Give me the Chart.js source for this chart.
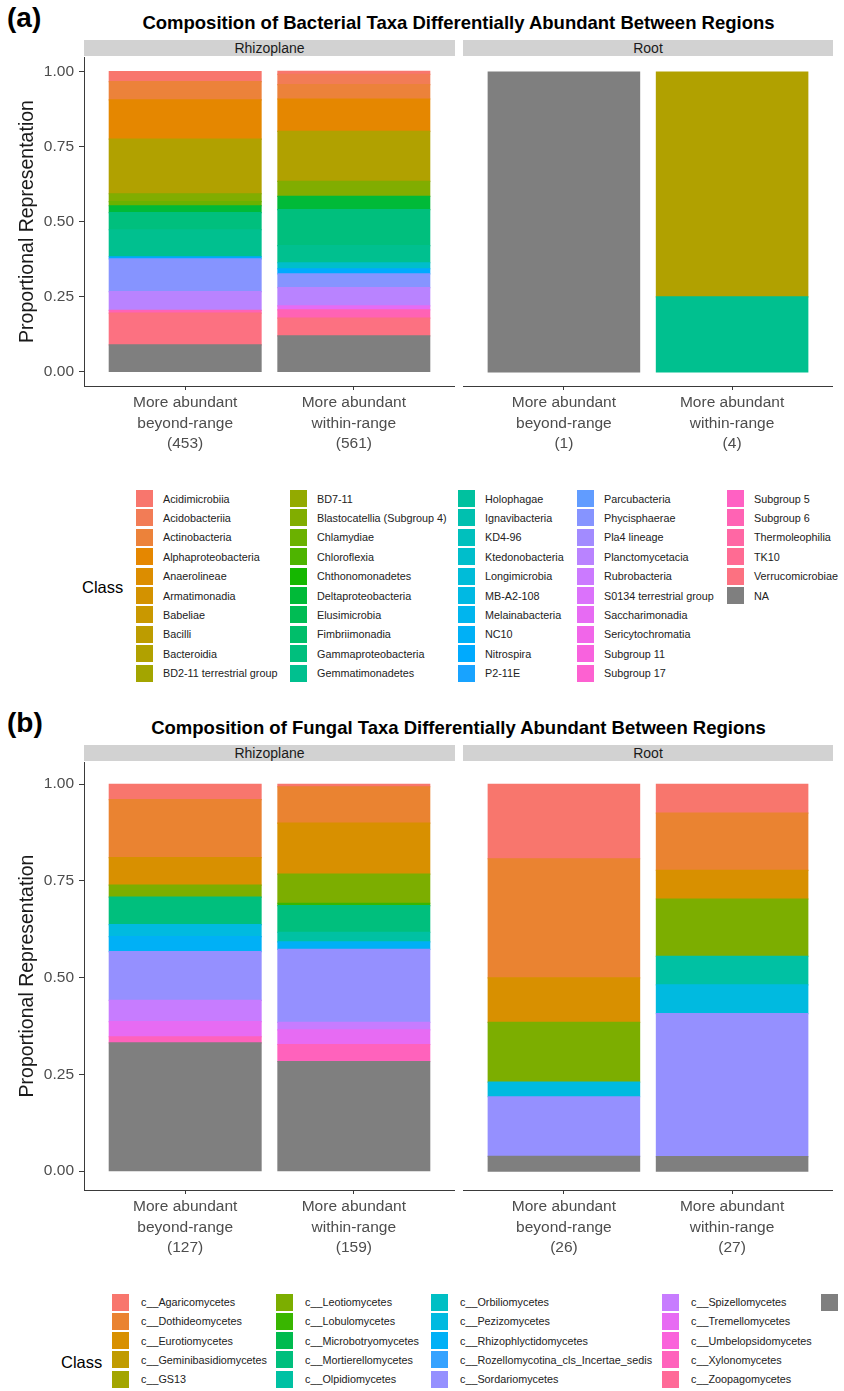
<!DOCTYPE html>
<html>
<head>
<meta charset="utf-8">
<script src="https://cdn.jsdelivr.net/npm/chart.js@4.4.1/dist/chart.umd.min.js"></script>
<style>
  body { margin: 0; background: #fff; }
  #page { position: relative; width: 844px; height: 1391px; overflow: hidden; background: #fff;
          font-family: "Liberation Sans", Arial, sans-serif; }
  #page > * { position: absolute; }
  .tag { font-size: 28px; font-weight: bold; color: #000; line-height: 32px; }
  .title { left: 80px; width: 757px; text-align: center; font-size: 18.5px; font-weight: bold; color: #000; line-height: 22px; }
  .strip { height: 16px; background: #d2d2d2; color: #1a1a1a; font-size: 14px; line-height: 16px; text-align: center; }
  .legtitle { font-size: 16.5px; color: #000; line-height: 20px; }
  .key { position: absolute; width: 17px; height: 17px; }
  .keytext { position: absolute; font-size: 10.8px; color: #222; white-space: nowrap; line-height: 14px; }
</style>
</head>
<body>
<div id="page">
  <div class="tag" style="left:7px;top:2px">(a)</div>
  <div class="title" style="top:12px">Composition of Bacterial Taxa Differentially Abundant Between Regions</div>
  <div class="strip" style="left:84px;top:40px;width:371px">Rhizoplane</div>
  <div class="strip" style="left:463px;top:40px;width:370px">Root</div>
  <canvas id="bacRhizo" width="455" height="425" style="left:0;top:42px"></canvas>
  <canvas id="bacRoot" width="370" height="425" style="left:463px;top:42px"></canvas>
  <div class="legtitle" style="left:82px;top:577px">Class</div>
  <div id="bacLegend" style="left:0;top:0"></div>

  <div class="tag" style="left:7px;top:707px">(b)</div>
  <div class="title" style="top:717px">Composition of Fungal Taxa Differentially Abundant Between Regions</div>
  <div class="strip" style="left:84px;top:745px;width:371px">Rhizoplane</div>
  <div class="strip" style="left:463px;top:745px;width:370px">Root</div>
  <canvas id="funRhizo" width="455" height="525" style="left:0;top:747px"></canvas>
  <canvas id="funRoot" width="370" height="525" style="left:463px;top:747px"></canvas>
  <div class="legtitle" style="left:61px;top:1352px">Class</div>
  <div id="funLegend" style="left:0;top:0"></div>
</div>

<script>
// ---------- data ----------
const groups = ['beyond-range', 'within-range'];

const bacClasses = [
  'Acidimicrobiia', 'Acidobacteriia', 'Actinobacteria', 'Alphaproteobacteria', 'Anaerolineae',
  'Armatimonadia', 'Babeliae', 'Bacilli', 'Bacteroidia', 'BD2-11 terrestrial group',
  'BD7-11', 'Blastocatellia (Subgroup 4)', 'Chlamydiae', 'Chloroflexia', 'Chthonomonadetes',
  'Deltaproteobacteria', 'Elusimicrobia', 'Fimbriimonadia', 'Gammaproteobacteria', 'Gemmatimonadetes',
  'Holophagae', 'Ignavibacteria', 'KD4-96', 'Ktedonobacteria', 'Longimicrobia',
  'MB-A2-108', 'Melainabacteria', 'NC10', 'Nitrospira', 'P2-11E',
  'Parcubacteria', 'Phycisphaerae', 'Pla4 lineage', 'Planctomycetacia', 'Rubrobacteria',
  'S0134 terrestrial group', 'Saccharimonadia', 'Sericytochromatia', 'Subgroup 11', 'Subgroup 17',
  'Subgroup 5', 'Subgroup 6', 'Thermoleophilia', 'TK10', 'Verrucomicrobiae', 'NA'
];
// proportions, same order as bacClasses
const bacRhizoBeyond = [
  0.033, 0, 0.061, 0.131, 0, 0, 0, 0, 0.182, 0,
  0, 0.026, 0.014, 0, 0, 0.023, 0, 0, 0.057, 0.090,
  0, 0, 0, 0, 0, 0, 0, 0, 0.007, 0,
  0, 0.109, 0, 0.063, 0, 0, 0, 0, 0, 0,
  0, 0.009, 0, 0, 0.106, 0.090
];
const bacRhizoWithin = [
  0.010, 0.034, 0.048, 0.108, 0, 0, 0, 0, 0.167, 0,
  0, 0.050, 0, 0, 0, 0.044, 0, 0, 0.120, 0.057,
  0, 0, 0, 0.020, 0, 0, 0, 0, 0.017, 0,
  0, 0.046, 0, 0.061, 0, 0, 0.013, 0, 0, 0,
  0, 0.028, 0, 0, 0.059, 0.120
];
const bacRootBeyond = [
  0, 0, 0, 0, 0, 0, 0, 0, 0, 0,
  0, 0, 0, 0, 0, 0, 0, 0, 0, 0,
  0, 0, 0, 0, 0, 0, 0, 0, 0, 0,
  0, 0, 0, 0, 0, 0, 0, 0, 0, 0,
  0, 0, 0, 0, 0, 1
];
const bacRootWithin = [
  0, 0, 0, 0, 0, 0, 0, 0, 0.75, 0,
  0, 0, 0, 0, 0, 0, 0, 0, 0, 0.25,
  0, 0, 0, 0, 0, 0, 0, 0, 0, 0,
  0, 0, 0, 0, 0, 0, 0, 0, 0, 0,
  0, 0, 0, 0, 0, 0
];
const bacRhizoCounts = [453, 561];
const bacRootCounts = [1, 4];

const funClasses = [
  'c__Agaricomycetes', 'c__Dothideomycetes', 'c__Eurotiomycetes', 'c__Geminibasidiomycetes', 'c__GS13',
  'c__Leotiomycetes', 'c__Lobulomycetes', 'c__Microbotryomycetes', 'c__Mortierellomycetes', 'c__Olpidiomycetes',
  'c__Orbiliomycetes', 'c__Pezizomycetes', 'c__Rhizophlyctidomycetes', 'c__Rozellomycotina_cls_Incertae_sedis', 'c__Sordariomycetes',
  'c__Spizellomycetes', 'c__Tremellomycetes', 'c__Umbelopsidomycetes', 'c__Xylonomycetes', 'c__Zoopagomycetes',
  'NA'
];
const funRhizoBeyond = [0.039, 0.150, 0.071, 0, 0, 0.031, 0, 0, 0.071, 0, 0, 0.031, 0.039, 0, 0.126, 0.055, 0.039, 0, 0.016, 0, 0.331];
const funRhizoWithin = [0.006, 0.094, 0.132, 0, 0, 0.075, 0.006, 0, 0.069, 0.025, 0, 0, 0.019, 0, 0.189, 0.019, 0.038, 0, 0.044, 0, 0.283];
const funRootBeyond  = [0.192, 0.308, 0.115, 0, 0, 0.154, 0, 0, 0, 0, 0, 0.038, 0, 0, 0.154, 0, 0, 0, 0, 0, 0.038];
const funRootWithin  = [0.074, 0.148, 0.074, 0, 0, 0.148, 0, 0, 0, 0.074, 0, 0.074, 0, 0, 0.370, 0, 0, 0, 0, 0, 0.037];
const funRhizoCounts = [127, 159];
const funRootCounts = [26, 27];

const yTicks = [0, 0.25, 0.5, 0.75, 1];

// ---------- ggplot-like hue palette ----------
function hcl(h, c, l) {
  const rad = h * Math.PI / 180;
  const U = c * Math.cos(rad), V = c * Math.sin(rad);
  const Xn = 95.047, Yn = 100, Zn = 108.883;
  const Y = Yn * (l > 8 ? Math.pow((l + 16) / 116, 3) : l / 903.3);
  const den = Xn + 15 * Yn + 3 * Zn;
  const u = U / (13 * l) + 4 * Xn / den;
  const v = V / (13 * l) + 9 * Yn / den;
  const X = 9 * Y * u / (4 * v);
  const Z = -X / 3 - 5 * Y + 3 * Y / v;
  const lin = [
    (3.240479 * X - 1.537150 * Y - 0.498535 * Z) / 100,
    (-0.969256 * X + 1.875992 * Y + 0.041556 * Z) / 100,
    (0.055648 * X - 0.204043 * Y + 1.057311 * Z) / 100
  ];
  const rgb = lin.map(t => {
    const g = t <= 0.0031308 ? 12.92 * t : 1.055 * Math.pow(t, 1 / 2.4) - 0.055;
    return Math.round(255 * Math.min(1, Math.max(0, g)));
  });
  return 'rgb(' + rgb.join(',') + ')';
}

function huePalette(names) {
  const n = names.length - 1; // last one is NA
  const cols = [];
  for (let i = 0; i < n; i++) cols.push(hcl(15 + i * 360 / n, 100, 65));
  cols.push('#7f7f7f');
  return cols;
}

const bacColors = huePalette(bacClasses);
const funColors = huePalette(funClasses);

// ---------- charts ----------
const AXIS = '#3a3a3a';
const FONT = '"Liberation Sans", Arial, sans-serif';

function xLabels(counts) {
  return groups.map((g, i) => ['More abundant', g, '(' + counts[i] + ')']);
}

function makeFacet(id, classes, colors, beyond, within, counts, showY, xHeight, yRange) {
  const labels = xLabels(counts);
  const datasets = [];
  // ggplot stacks the first level on top, chart.js stacks the first dataset at the bottom
  for (let i = classes.length - 1; i >= 0; i--) {
    datasets.push({
      label: classes[i],
      // empty classes are skipped so they leave no hairline
      data: [{ x: 1, y: beyond[i] || null }, { x: 2, y: within[i] || null }],
      backgroundColor: colors[i],
      borderWidth: 0,
      inflateAmount: 0.6,
      barPercentage: 1,
      categoryPercentage: 0.9
    });
  }

  return new Chart(document.getElementById(id), {
    type: 'bar',
    data: { datasets: datasets },
    options: {
      responsive: false,
      animation: false,
      layout: { padding: { top: 15, left: 0, right: 0, bottom: 0 } },
      plugins: { legend: { display: false }, tooltip: { enabled: false } },
      scales: {
        x: {
          type: 'linear',
          stacked: true,
          offset: false,
          min: 0.4,
          max: 2.6,
          afterBuildTicks: s => { s.ticks = [{ value: 1 }, { value: 2 }]; },
          afterFit: s => { s.height = xHeight; },
          grid: { offset: false, drawOnChartArea: false, tickLength: 4, color: AXIS },
          border: { display: true, color: AXIS, width: 1 },
          ticks: {
            autoSkip: false,
            maxRotation: 0,
            padding: 3,
            color: '#4d4d4d',
            font: { family: FONT, size: 15.5, lineHeight: 1.3 },
            callback: v => labels[v - 1]
          }
        },
        y: {
          display: showY,
          stacked: true,
          min: yRange[0],
          max: yRange[1],
          afterBuildTicks: s => { s.ticks = yTicks.map(v => ({ value: v })); },
          afterFit: s => { if (showY) s.width = 84; },
          grid: { drawOnChartArea: false, tickLength: 5, color: AXIS },
          border: { display: true, color: AXIS, width: 1 },
          ticks: {
            padding: 5,
            color: '#4d4d4d',
            font: { family: FONT, size: 15.5 },
            callback: v => v.toFixed(2)
          },
          title: {
            display: true,
            text: 'Proportional Representation',
            color: '#1a1a1a',
            font: { family: FONT, size: 19.5 },
            padding: { top: 16, bottom: 0 }
          }
        }
      }
    }
  });
}

const bacY = [-0.047, 1.05];
const funY = [-0.049, 1.057];
makeFacet('bacRhizo', bacClasses, bacColors, bacRhizoBeyond, bacRhizoWithin, bacRhizoCounts, true, 81, bacY);
makeFacet('bacRoot', bacClasses, bacColors, bacRootBeyond, bacRootWithin, bacRootCounts, false, 81, bacY);
makeFacet('funRhizo', funClasses, funColors, funRhizoBeyond, funRhizoWithin, funRhizoCounts, true, 82, funY);
makeFacet('funRoot', funClasses, funColors, funRootBeyond, funRootWithin, funRootCounts, false, 82, funY);

// ---------- legends (column-major like ggplot) ----------
function buildLegend(id, classes, colors, rows, colX, textGap, top, pitch) {
  const box = document.getElementById(id);
  classes.forEach((name, i) => {
    const col = Math.floor(i / rows), row = i % rows;
    const y = top + row * pitch;
    const key = document.createElement('div');
    key.className = 'key';
    key.style.left = colX[col] + 'px';
    key.style.top = y + 'px';
    key.style.background = colors[i];
    box.appendChild(key);
    const txt = document.createElement('div');
    txt.className = 'keytext';
    txt.style.left = (colX[col] + textGap) + 'px';
    txt.style.top = (y + 1.5) + 'px';
    txt.textContent = name;
    box.appendChild(txt);
  });
}

buildLegend('bacLegend', bacClasses, bacColors, 10, [136, 290, 458, 577, 727], 27, 490, 19.4);
buildLegend('funLegend', funClasses, funColors, 5, [112, 276, 431, 662, 821], 29, 1293.5, 19.25);
</script>
</body>
</html>
